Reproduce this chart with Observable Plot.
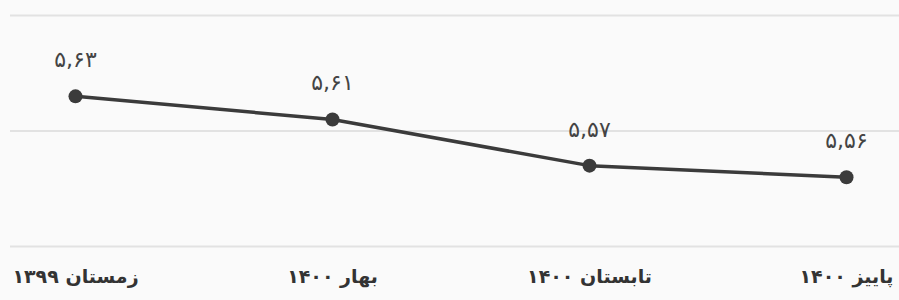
<!DOCTYPE html>
<html>
<head>
<meta charset="utf-8">
<script src="https://cdn.jsdelivr.net/npm/d3@7"></script>
<script src="https://cdn.jsdelivr.net/npm/@observablehq/plot@0.6"></script>
<style>
  html, body { margin: 0; padding: 0; background: #fafafa; }
  #chart svg { display: block; }
</style>
</head>
<body>
<div id="chart"></div>
<script>
const categories = ["زمستان ۱۳۹۹", "بهار ۱۴۰۰", "تابستان ۱۴۰۰", "پاییز ۱۴۰۰"];
const values = [5.63, 5.61, 5.57, 5.56];
const gridValues = [5.5, 5.6, 5.7];

const faDigits = "۰۱۲۳۴۵۶۷۸۹";
const toFa = (v) => v.toFixed(2).replace(".", ",").replace(/\d/g, d => faDigits[+d]);

const data = categories.map((c, i) => ({ cat: c, value: values[i] }));

const chart = Plot.plot({
  width: 899,
  height: 300,
  marginTop: 15,
  marginBottom: 54,
  marginLeft: 10,
  marginRight: 0,
  style: { background: "#fafafa", fontFamily: "DejaVu Sans, sans-serif" },
  x: { type: "point", domain: categories, range: [74, 847], padding: 0, label: null },
  y: { domain: [5.5, 5.7], axis: null },
  marks: [
    Plot.ruleY(gridValues, { stroke: "#e2e2e2", strokeWidth: 2 }),
    Plot.axisX({ tickSize: 0, tickPadding: 23, fontSize: 19, fontWeight: "bold", fill: "#333", label: null }),
    Plot.line(data, { x: "cat", y: "value", stroke: "#3b3b3b", strokeWidth: 3.5 }),
    Plot.dot(data, { x: "cat", y: "value", r: 7, fill: "#3b3b3b", stroke: "none" }),
    Plot.text(data, { x: "cat", y: "value", text: d => toFa(d.value), dy: -36, fontSize: 22, fill: "#444" })
  ]
});
document.getElementById("chart").append(chart);
</script>
</body>
</html>
